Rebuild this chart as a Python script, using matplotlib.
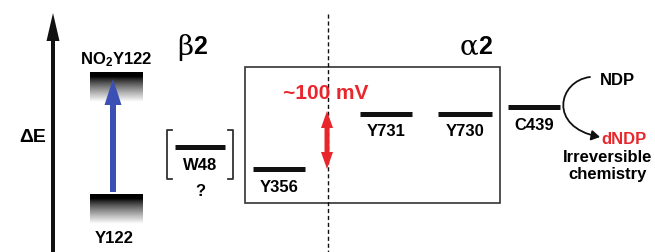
"""Energy-level diagram: radical transfer pathway in RNR (beta2 / alpha2)."""

import matplotlib

matplotlib.use("Agg")

import matplotlib.pyplot as plt
import numpy as np
from matplotlib.patches import FancyArrow, FancyArrowPatch, Rectangle
from matplotlib.path import Path

plt.rcParams["font.family"] = ["Liberation Sans", "DejaVu Sans"]
plt.rcParams["font.weight"] = "bold"
plt.rcParams["mathtext.default"] = "regular"

# residue levels (y = relative energy in picture units, smaller = higher)
level_names = ["W48", "Y356", "Y731", "Y730", "C439"]
level_y = [148, 170, 115, 115, 108]
level_x0 = [175, 253, 360, 438, 508]
level_x1 = [225, 305, 412, 492, 560]

# photo-excited tyrosine states (gradient bars)
gradient_names = ["NO$_2$Y122", "Y122"]
gradient_top = [73, 195]
gradient_bottom = [103, 225]

BLACK = "#111111"
RED = "#e8262b"
BLUE = "#3b4fb4"
LABEL = 12

fig = plt.figure(figsize=(6.55, 2.53), dpi=100)
ax = fig.add_axes([0, 0, 1, 1])

# energy axis
ax.add_patch(FancyArrow(53, 255, 0, -241, width=4, head_width=13, head_length=28,
                        length_includes_head=True, color=BLACK, lw=0))
ax.text(19, 137, "ΔE", fontsize=14, ha="left", va="center")

# gradient bars for Y122 / NO2Y122
ramp = np.linspace(0, 1, 64)
ramp = np.clip((ramp - 0.15) / 0.85, 0, 1) ** 0.8
for name, top, bot in zip(gradient_names, gradient_top, gradient_bottom):
    ax.imshow(ramp[:, None], extent=(90, 143, bot, top), cmap="gray", vmin=0, vmax=1,
              aspect="auto", interpolation="bilinear", zorder=1)
ax.text(116, 60, gradient_names[0], fontsize=LABEL, ha="center", va="center")
ax.text(114, 239, gradient_names[1], fontsize=LABEL, ha="center", va="center")

ax.set_xlim(0, 655)
ax.set_ylim(253, 0)
ax.set_aspect("equal")
ax.axis("off")

ax.add_patch(FancyArrow(113, 193, 0, -113, width=6, head_width=17, head_length=26,
                        length_includes_head=True, color=BLUE, lw=0, zorder=3))

# subunit labels
ax.text(193, 47, "β", fontsize=20, family="DejaVu Serif", fontweight="normal",
        ha="right", va="center")
ax.text(193, 47, "2", fontsize=18, ha="left", va="center")
ax.text(478, 47, "α", fontsize=20, family="DejaVu Serif", fontweight="normal",
        ha="right", va="center")
ax.text(478, 47, "2", fontsize=18, ha="left", va="center")

# alpha2 box and subunit interface
ax.add_patch(Rectangle((245, 68), 255, 136, fill=False, ec="#333333", lw=1.2))
ax.plot([328, 328], [15, 253], color=BLACK, lw=1, ls=(0, (3, 2)))

# residue levels
for name, y, x0, x1 in zip(level_names, level_y, level_x0, level_x1):
    ax.plot([x0, x1], [y, y], color=BLACK, lw=3.6, solid_capstyle="butt")
    ax.text((x0 + x1) / 2, y + 17, name, fontsize=LABEL, ha="center", va="center")

# W48 brackets
ax.plot([172, 167, 167, 172], [131, 131, 180, 180], color="#333333", lw=1.3)
ax.plot([228, 233, 233, 228], [131, 131, 180, 180], color="#333333", lw=1.3)
ax.text(200, 191, "?", fontsize=LABEL, ha="center", va="center")

# ~100 mV
ax.text(326, 93, "~100 mV", fontsize=15, color=RED, ha="center", va="center")
ax.add_patch(FancyArrow(327, 141, 0, -29, width=5, head_width=12, head_length=17,
                        length_includes_head=True, color=RED, lw=0, zorder=3))
ax.add_patch(FancyArrow(327, 141, 0, 29, width=5, head_width=12, head_length=17,
                        length_includes_head=True, color=RED, lw=0, zorder=3))

# irreversible chemistry at C439
curve = Path([(590, 78), (558, 82), (548, 128), (600, 138)],
             [Path.MOVETO, Path.CURVE4, Path.CURVE4, Path.CURVE4])
ax.add_patch(FancyArrowPatch(path=curve, arrowstyle="-|>,head_length=5,head_width=3",
                             color=BLACK, lw=1.3))
ax.text(617, 80, "NDP", fontsize=LABEL, ha="center", va="center")
ax.text(624, 140, "dNDP", fontsize=LABEL, color=RED, ha="center", va="center")
ax.text(608, 158, "Irreversible", fontsize=LABEL, ha="center", va="center")
ax.text(608, 175, "chemistry", fontsize=LABEL, ha="center", va="center")

fig.savefig("out.png", dpi=100)
